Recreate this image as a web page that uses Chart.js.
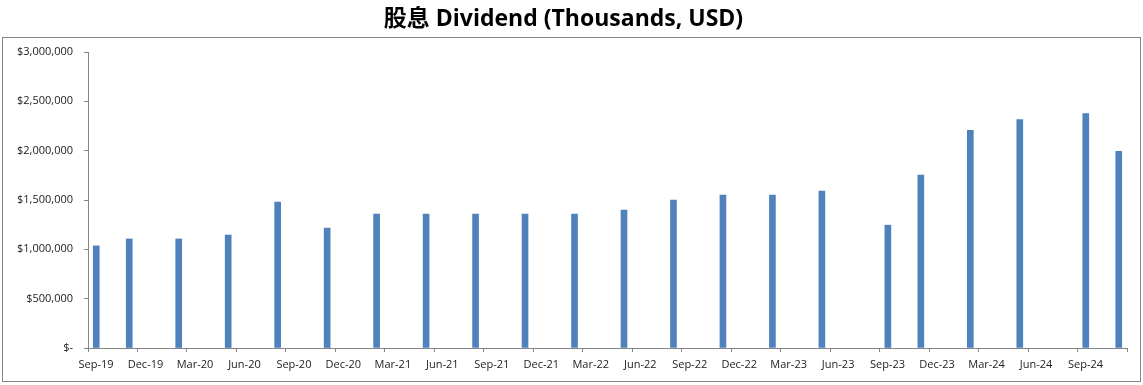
<!DOCTYPE html>
<html lang="zh">
<head>
  <meta charset="UTF-8">
  <title>股息 Dividend</title>
  <script src="https://cdn.jsdelivr.net/npm/chart.js"></script>
  <style>
    body {
      margin: 0;
      background: #ffffff;
    }
    #wrap {
      width: 1143px;
      height: 385px;
      position: relative;
    }
  </style>
</head>
<body>
  <div id="wrap">
    <canvas id="divChart"></canvas>
  </div>

  <script>
    // payment months and amounts (thousands USD)
    const payDates = ['Sep-19', 'Nov-19', 'Feb-20', 'May-20', 'Aug-20', 'Nov-20', 'Feb-21', 'May-21',
      'Aug-21', 'Nov-21', 'Feb-22', 'May-22', 'Aug-22', 'Nov-22', 'Feb-23', 'May-23',
      'Sep-23', 'Nov-23', 'Feb-24', 'May-24', 'Sep-24', 'Nov-24'];
    const dividends = [1035000, 1105000, 1105000, 1145000, 1480000, 1215000, 1357000, 1357000,
      1357000, 1357000, 1357000, 1397000, 1498000, 1550000, 1550000, 1590000,
      1245000, 1752000, 2205000, 2316000, 2377000, 1993000];

    // quarterly labels on the date axis
    const tickLabels = ['Sep-19', 'Dec-19', 'Mar-20', 'Jun-20', 'Sep-20', 'Dec-20', 'Mar-21',
      'Jun-21', 'Sep-21', 'Dec-21', 'Mar-22', 'Jun-22', 'Sep-22', 'Dec-22', 'Mar-23',
      'Jun-23', 'Sep-23', 'Dec-23', 'Mar-24', 'Jun-24', 'Sep-24'];
    const firstMonth = 'Sep-19';
    const lastMonth = 'Nov-24';

    const monthNames = ['Jan', 'Feb', 'Mar', 'Apr', 'May', 'Jun', 'Jul', 'Aug', 'Sep', 'Oct', 'Nov', 'Dec'];

    // month offset from the first month on the axis
    function monthIndex(label) {
      const parts = label.split('-');
      const abs = (2000 + Number(parts[1])) * 12 + monthNames.indexOf(parts[0]);
      const base = firstMonth.split('-');
      return abs - ((2000 + Number(base[1])) * 12 + monthNames.indexOf(base[0]));
    }

    const axisMax = monthIndex(lastMonth);
    const points = payDates.map((d, i) => ({ x: monthIndex(d), y: dividends[i] }));

    const axisGrey = '#868686';

    // outer frame of the plot
    const framePlugin = {
      id: 'frame',
      afterDraw(chart) {
        const ctx = chart.ctx;
        ctx.save();
        ctx.strokeStyle = axisGrey;
        ctx.lineWidth = 1;
        ctx.strokeRect(2.5, 37.5, 1138, 344);
        ctx.restore();
      }
    };

    const ctx = document.getElementById('divChart').getContext('2d');
    new Chart(ctx, {
      type: 'bar',
      data: {
        datasets: [{
          data: points,
          backgroundColor: '#4F81BD',
          barThickness: 6
        }]
      },
      options: {
        responsive: true,
        maintainAspectRatio: false,
        animation: false,
        layout: {
          padding: { left: 0, right: 16, top: 0, bottom: 4 }
        },
        plugins: {
          legend: { display: false },
          tooltip: { enabled: false },
          title: {
            display: true,
            text: '股息 Dividend (Thousands, USD)',
            color: '#000000',
            font: { family: "'Open Sans', 'Noto Sans CJK SC', sans-serif", size: 23, weight: 'bold' },
            padding: { top: 5.5, bottom: 18.9 }
          }
        },
        scales: {
          x: {
            type: 'linear',
            offset: false,
            min: -0.5,
            max: axisMax + 0.5,
            afterBuildTicks: (scale) => {
              const t = [];
              for (let v = -0.5; v <= axisMax + 0.5; v += 3) t.push({ value: v });
              scale.ticks = t;
            },
            afterFit: (scale) => { scale.height = 33; },
            grid: {
              offset: false,
              drawOnChartArea: false,
              drawTicks: true,
              tickLength: 4,
              color: axisGrey
            },
            border: { display: true, color: axisGrey },
            ticks: {
              autoSkip: false,
              maxRotation: 0,
              labelOffset: 8,
              padding: 6,
              color: '#222222',
              font: { family: "'Open Sans', sans-serif", size: 11 },
              callback: (value, index) => tickLabels[index] || ''
            }
          },
          y: {
            min: 0,
            max: 3000000,
            afterFit: (scale) => { scale.width = 88; },
            grid: {
              drawOnChartArea: false,
              drawTicks: true,
              tickLength: 4,
              color: axisGrey
            },
            border: { display: true, color: axisGrey },
            ticks: {
              stepSize: 500000,
              padding: 11,
              color: '#222222',
              font: { family: "'Open Sans', sans-serif", size: 11 },
              callback: (v) => v === 0 ? '$-' : '$' + v.toLocaleString('en-US')
            }
          }
        }
      },
      plugins: [framePlugin]
    });
  </script>
</body>
</html>
